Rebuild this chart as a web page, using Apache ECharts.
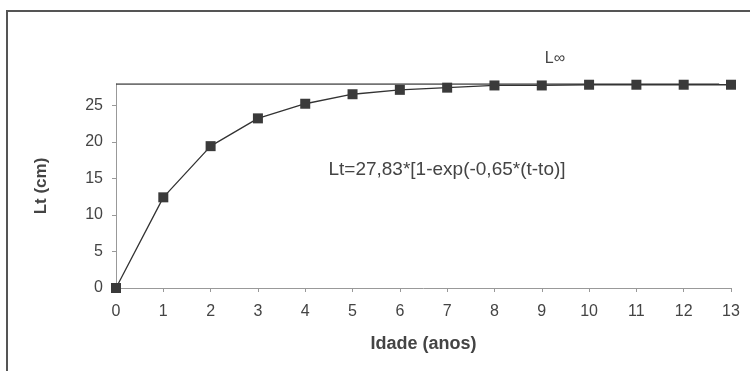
<!DOCTYPE html>
<html><head><meta charset="utf-8">
<script src="https://cdn.jsdelivr.net/npm/echarts@6/dist/echarts.min.js"></script>
<style>html,body{margin:0;padding:0;background:#fff}#c{width:750px;height:371px}</style>
</head><body><div id="c"></div>
<script>
const ages = [0,1,2,3,4,5,6,7,8,9,10,11,12,13];
const lengths = [0,12.4,19.4,23.2,25.2,26.5,27.1,27.4,27.7,27.7,27.8,27.8,27.8,27.8];
const lInf = 27.9;
const lInfEnd = 12.75;
const xTicks = [0,13,1];
const yTicks = [0,5,10,15,20,25];
const equation = 'Lt=27,83*[1-exp(-0,65*(t-to)]';
const lInfLabel = 'L\u221E';
const xName = 'Idade (anos)';
const yName = 'Lt (cm)';

const chart = echarts.init(document.getElementById('c'));
const font = '"Liberation Sans", Arial, sans-serif';
chart.setOption({
  animation: false,
  backgroundColor: '#fff',
  grid: {left: 116, right: 19, top: 84, bottom: 83},
  xAxis: {
    type: 'value', min: xTicks[0], max: xTicks[1], interval: xTicks[2],
    name: xName, nameLocation: 'middle', nameGap: 47,
    nameTextStyle: {fontFamily: font, fontSize: 18, fontWeight: 'bold', color: '#444'},
    axisLine: {lineStyle: {color: '#999', width: 1}},
    axisTick: {show: true, length: 4, lineStyle: {color: '#999'}},
    axisLabel: {fontFamily: font, fontSize: 16, color: '#444', margin: 16},
    splitLine: {show: false}
  },
  yAxis: {
    type: 'value', min: 0, max: lInf, interval: 5,
    name: yName, nameLocation: 'middle', nameGap: 66, nameRotate: 90,
    nameTextStyle: {fontFamily: font, fontSize: 17, fontWeight: 'bold', color: '#444'},
    axisLine: {show: true, lineStyle: {color: '#999', width: 1}},
    axisTick: {show: true, length: 4, lineStyle: {color: '#999'}},
    axisLabel: {fontFamily: font, fontSize: 16, color: '#444', margin: 13, showMaxLabel: false,
      formatter: v => yTicks.includes(v) ? String(v) : ''},
    splitLine: {show: false}
  },
  series: [
    {
      type: 'line', data: [[0, lInf], [lInfEnd, lInf]], symbol: 'none',
      lineStyle: {color: '#444', width: 1.5}, z: 1
    },
    {
      type: 'line', data: ages.map((a, i) => [a, lengths[i]]),
      symbol: 'rect', symbolSize: 10,
      itemStyle: {color: '#3a3a3a'},
      lineStyle: {color: '#333', width: 1.3}, z: 2
    }
  ],
  graphic: [
    {type: 'rect', shape: {x: 7, y: 11, width: 800, height: 400},
      style: {fill: 'none', stroke: '#555', lineWidth: 2}},
    {type: 'text', x: 447, y: 170, style: {text: equation, font: '19px ' + font, fill: '#444', textAlign: 'center', textVerticalAlign: 'middle'}},
    {type: 'text', x: 555, y: 59, style: {text: lInfLabel, font: '16px ' + font, fill: '#444', textAlign: 'center', textVerticalAlign: 'middle'}}
  ]
});
</script></body></html>
